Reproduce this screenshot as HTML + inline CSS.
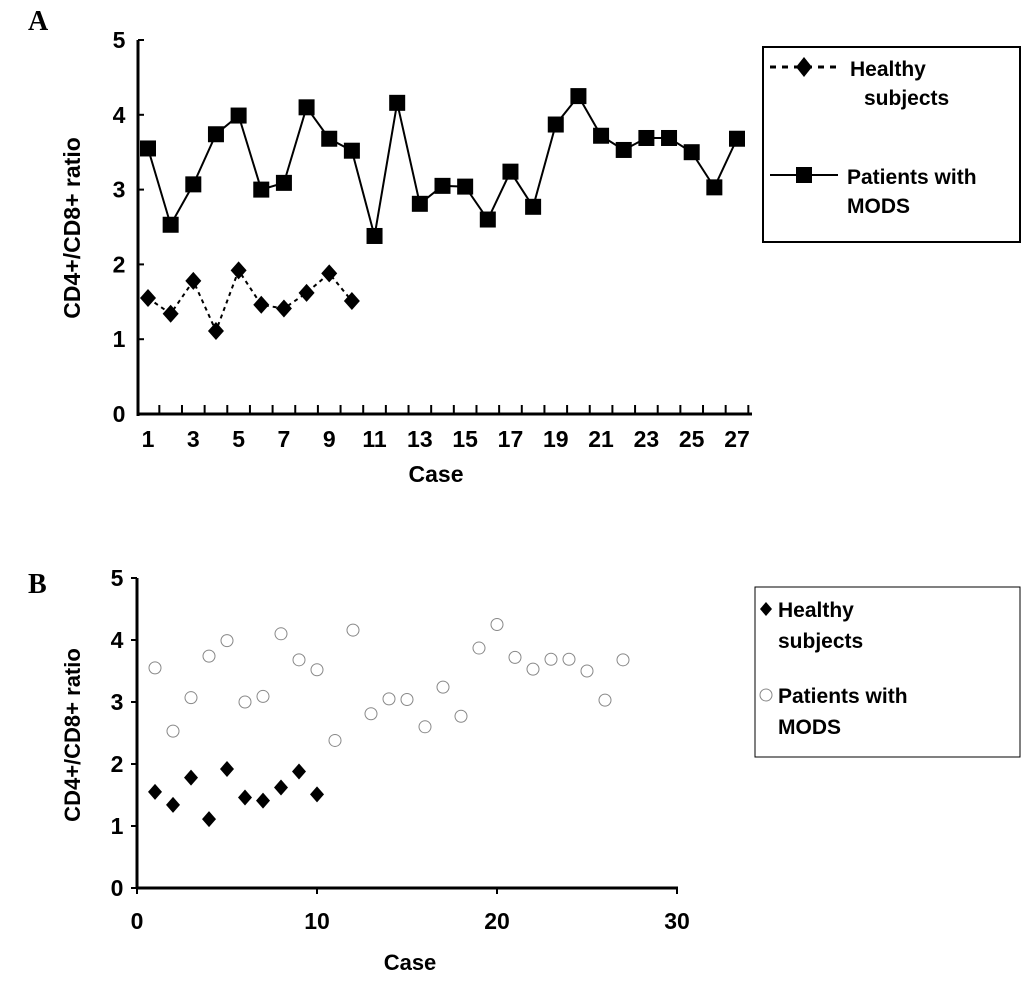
<!DOCTYPE html>
<html><head><meta charset="utf-8"><style>
body{margin:0;background:#fff}
svg text{font-family:"Liberation Sans",Arial,sans-serif;font-weight:bold;fill:#000}
</style></head><body>
<svg id="c" width="1033" height="978" viewBox="0 0 1033 978" xmlns="http://www.w3.org/2000/svg">
<text x="28" y="30" style="font-family:'Liberation Serif',serif;font-size:28px">A</text>
<text x="28" y="593" style="font-family:'Liberation Serif',serif;font-size:28px">B</text>
<g id="a"></g><g id="b"></g>
<rect x="763" y="47" width="257" height="195" fill="none" stroke="#000" stroke-width="2"/>
<line x1="770" y1="67" x2="838" y2="67" stroke="#000" stroke-width="3" stroke-dasharray="6,6"/>
<path d="M804 57 L812 67 L804 77 L796 67Z" fill="#000"/>
<text x="850" y="76" font-size="21">Healthy</text>
<text x="864" y="105" font-size="21">subjects</text>
<line x1="770" y1="175" x2="838" y2="175" stroke="#000" stroke-width="2"/>
<rect x="796" y="167" width="16" height="16" fill="#000"/>
<text x="847" y="184" font-size="21">Patients with</text>
<text x="847" y="213" font-size="21">MODS</text>
<rect x="755" y="587" width="265" height="170" fill="none" stroke="#000" stroke-width="1"/>
<path d="M766 602 L772 609 L766 616 L760 609Z" fill="#000"/>
<text x="778" y="617" font-size="21">Healthy</text>
<text x="778" y="648" font-size="21">subjects</text>
<circle cx="766" cy="695" r="6" fill="none" stroke="#888" stroke-width="1"/>
<text x="778" y="703" font-size="21">Patients with</text>
<text x="778" y="734" font-size="21">MODS</text>
</svg>
<script>
const healthy=[1.55,1.34,1.78,1.11,1.92,1.46,1.41,1.62,1.88,1.51];
const mods=[3.55,2.53,3.07,3.74,3.99,3.0,3.09,4.1,3.68,3.52,2.38,4.16,2.81,3.05,3.04,2.6,3.24,2.77,3.87,4.25,3.72,3.53,3.69,3.69,3.5,3.03,3.68];
const yTicks=[0,1,2,3,4,5];
const bXTicks=[0,10,20,30];
const NS="http://www.w3.org/2000/svg";
function mk(p,t,a){const e=document.createElementNS(NS,t);for(const k in a)e.setAttribute(k,a[k]);p.appendChild(e);return e;}
const A=document.getElementById('a'),B=document.getElementById('b');
const ax=i=>148+(i-1)*(737-148)/26, ay=v=>414-v*74.8;
mk(A,'line',{x1:138,y1:ay(5),x2:138,y2:ay(0)+2,stroke:'#000','stroke-width':3});
mk(A,'line',{x1:137,y1:ay(0),x2:752,y2:ay(0),stroke:'#000','stroke-width':3});
for(const t of yTicks){mk(A,'line',{x1:138,y1:ay(t),x2:144,y2:ay(t),stroke:'#000','stroke-width':2});
 const tx=mk(A,'text',{x:119,y:ay(t)+8,'font-size':23,'text-anchor':'middle'});tx.textContent=t;
 
 }
for(let i=1;i<=27;i++){mk(A,'line',{x1:ax(i)+(ax(2)-ax(1))/2,y1:ay(0),x2:ax(i)+(ax(2)-ax(1))/2,y2:ay(0)-9,stroke:'#000','stroke-width':2});
 if(i%2){const tx=mk(A,'text',{x:ax(i),y:447,'font-size':23,'text-anchor':'middle'});tx.textContent=i;
 
 }}
let t1=mk(A,'text',{x:436,y:482,'font-size':23,'text-anchor':'middle'});t1.textContent='Case';


let t2=mk(A,'text',{x:0,y:0,'font-size':23,'text-anchor':'middle',transform:'translate(80,228) rotate(-90)'});t2.textContent='CD4+/CD8+ ratio';


mk(A,'polyline',{points:mods.map((v,i)=>ax(i+1)+','+ay(v)).join(' '),fill:'none',stroke:'#000','stroke-width':2});
mk(A,'polyline',{points:healthy.map((v,i)=>ax(i+1)+','+ay(v)).join(' '),fill:'none',stroke:'#000','stroke-width':2,'stroke-dasharray':'4,4'});
mods.forEach((v,i)=>{const r=mk(A,'rect',{x:ax(i+1)-8,y:ay(v)-8,width:16,height:16,fill:'#000'});
 
 });
healthy.forEach((v,i)=>{const x=ax(i+1),y=ay(v);const p=mk(A,'path',{d:`M${x} ${y-9}L${x+8} ${y}L${x} ${y+9}L${x-8} ${y}Z`,fill:'#000'});
 
 });
const bx=v=>137+v*18, by=v=>888-v*62;
mk(B,'line',{x1:137,y1:by(5),x2:137,y2:by(0),stroke:'#000','stroke-width':3});
mk(B,'line',{x1:136,y1:by(0),x2:678,y2:by(0),stroke:'#000','stroke-width':3});
for(const t of yTicks){mk(B,'line',{x1:131,y1:by(t),x2:137,y2:by(t),stroke:'#000','stroke-width':2});
 const tx=mk(B,'text',{x:117,y:by(t)+8,'font-size':23,'text-anchor':'middle'});tx.textContent=t;
 
 }
for(const t of bXTicks){mk(B,'line',{x1:bx(t),y1:by(0),x2:bx(t),y2:by(0)+6,stroke:'#000','stroke-width':2});
 const tx=mk(B,'text',{x:bx(t),y:929,'font-size':23,'text-anchor':'middle'});tx.textContent=t;
 
 }
let t3=mk(B,'text',{x:410,y:970,'font-size':22,'text-anchor':'middle'});t3.textContent='Case';


let t4=mk(B,'text',{x:0,y:0,'font-size':22,'text-anchor':'middle',transform:'translate(80,735) rotate(-90)'});t4.textContent='CD4+/CD8+ ratio';


mods.forEach((v,i)=>{const c=mk(B,'circle',{cx:bx(i+1),cy:by(v),r:6,fill:'none',stroke:'#888','stroke-width':1});
 
 });
healthy.forEach((v,i)=>{const x=bx(i+1),y=by(v);const p=mk(B,'path',{d:`M${x} ${y-8}L${x+7} ${y}L${x} ${y+8}L${x-7} ${y}Z`,fill:'#000'});
 
 });
</script>
</body></html>
